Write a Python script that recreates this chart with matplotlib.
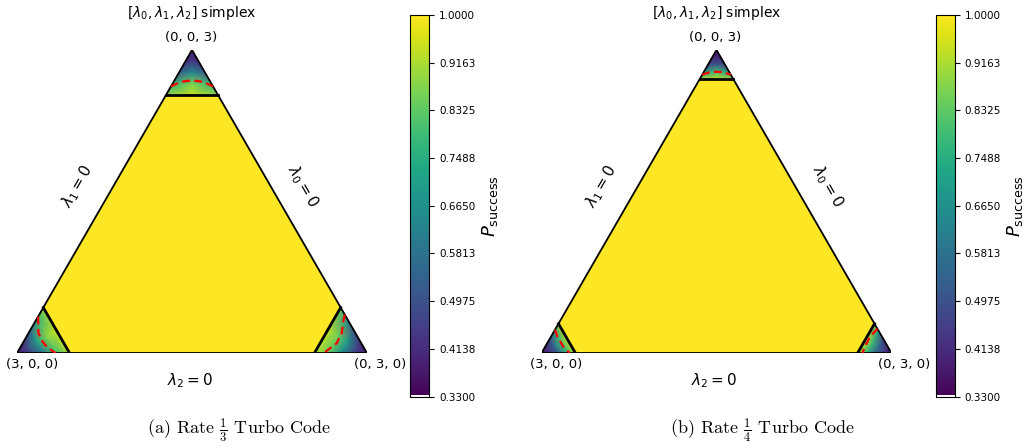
import numpy as np
import matplotlib
matplotlib.use("Agg")
import matplotlib.pyplot as plt
import matplotlib.tri as mtri
from matplotlib.colors import ListedColormap, Normalize

plt.rcParams["mathtext.fontset"] = "dejavusans"
plt.rcParams["axes.formatter.use_mathtext"] = True

# ---------------- data ----------------
P_MIN, P_MAX = 0.33, 1.0
cbar_ticks = [0.3300, 0.4138, 0.4975, 0.5813, 0.6650, 0.7488, 0.8325, 0.9163, 1.0000]

# corner thresholds (lambda_k value of the black cut line)
thr_r3 = 2.55
thr_r4 = 2.71
interior_p = 1.0

# sampling inside each corner: depth fraction from vertex to cut, cross fraction edge-to-edge
depth_frac = [0.25, 0.5, 0.75, 1.0]
cross_frac = [0.0, 0.5, 1.0]

# vertex values: [(3,0,0), (0,3,0), (0,0,3)]
r3_vertex = [0.36, 0.36, 0.37]
r4_vertex = [0.35, 0.35, 0.36]

# Rate 1/3 corner values (rows = depth, cols = cross)
r3_bl = [[0.42, 0.48, 0.44], [0.55, 0.72, 0.60], [0.74, 0.88, 0.80], [0.88, 0.95, 0.92]]
r3_br = [[0.41, 0.47, 0.46], [0.50, 0.70, 0.66], [0.66, 0.86, 0.84], [0.84, 0.94, 0.93]]
r3_top = [[0.41, 0.45, 0.41], [0.53, 0.66, 0.53], [0.76, 0.87, 0.76], [0.89, 0.95, 0.89]]
# Rate 1/4 corner values
r4_bl = [[0.40, 0.44, 0.41], [0.48, 0.58, 0.53], [0.68, 0.80, 0.76], [0.90, 0.95, 0.93]]
r4_br = [[0.40, 0.44, 0.44], [0.47, 0.58, 0.56], [0.66, 0.80, 0.78], [0.88, 0.95, 0.94]]
r4_top = [[0.39, 0.41, 0.39], [0.47, 0.53, 0.47], [0.68, 0.80, 0.68], [0.90, 0.95, 0.90]]

# red dashed boundaries (barycentric)
r3_red_top_l0 = [0.36, 0.25, 0.15, 0.065, 0.0]
r3_red_top_l1 = [0.0, 0.065, 0.15, 0.25, 0.36]
r3_red_bl_l1 = [0.0, 0.084, 0.151, 0.227, 0.33]
r3_red_bl_l2 = [0.36, 0.198, 0.122, 0.059, 0.0]
r3_red_br_l0 = [0.0, 0.048, 0.119, 0.212, 0.37]
r3_red_br_l2 = [0.38, 0.31, 0.195, 0.096, 0.0]

r4_red_top_l0 = [0.245, 0.17, 0.108, 0.05, 0.0]
r4_red_top_l1 = [0.0, 0.05, 0.108, 0.17, 0.245]
r4_red_bl_l1 = [0.0, 0.055, 0.156, 0.24]
r4_red_bl_l2 = [0.23, 0.161, 0.062, 0.0]
r4_red_br_l0 = [0.0, 0.104, 0.196, 0.25]
r4_red_br_l2 = [0.24, 0.161, 0.062, 0.0]

captions = [r"(a) Rate $\frac{1}{3}$ Turbo Code", r"(b) Rate $\frac{1}{4}$ Turbo Code"]

# ---------------- helpers ----------------
SQ = np.sqrt(3) / 2


def to_xy(l0, l1, l2):
    l0, l1, l2 = np.asarray(l0, float), np.asarray(l1, float), np.asarray(l2, float)
    return (l1 + 0.5 * l2) / 3.0, SQ * l2 / 3.0


# corner k, lambda index a gets (1-u), index b gets u
CORNERS = [(0, 2, 1), (1, 2, 0), (2, 0, 1)]

base = plt.get_cmap("viridis")(np.linspace(0, 1, 256))
base[0] = [1, 1, 1, 1]
cmap = ListedColormap(base)
norm = Normalize(P_MIN, P_MAX)

W, H = 1028, 448
fig = plt.figure(figsize=(W / 100, H / 100), dpi=100)


def px_axes(x0, y0, x1, y1):
    return fig.add_axes([x0 / W, 1 - y1 / H, (x1 - x0) / W, (y1 - y0) / H])


def draw_panel(left_px, cbar_x0, thr, vertex_vals, tables, reds, caption, cap_x):
    ax = px_axes(left_px, 50, left_px + 350, 353)
    ax.set_xlim(0, 1)
    ax.set_ylim(0, SQ)
    ax.set_aspect("equal")
    ax.axis("off")
    s = 3 - thr

    # interior hexagon (value 1)
    hl0 = [thr, 3 - thr, 0, 0, 3 - thr, thr]
    hl1 = [3 - thr, thr, thr, 3 - thr, 0, 0]
    hl2 = [0, 0, 3 - thr, thr, thr, 3 - thr]
    hx, hy = to_xy(hl0, hl1, hl2)
    ax.tripcolor(mtri.Triangulation(hx, hy), np.full(len(hx), interior_p),
                 shading="gouraud", cmap=cmap, norm=norm)

    # corners
    for (k, a, b), vv, tab in zip(CORNERS, vertex_vals, tables):
        lams, vals = [], []
        lam = np.zeros(3); lam[k] = 3
        lams.append(lam); vals.append(vv)
        for t, row in zip(depth_frac, tab):
            for u, v in zip(cross_frac, row):
                lam = np.zeros(3)
                lam[k] = 3 - t * s
                lam[a] = t * s * (1 - u)
                lam[b] = t * s * u
                lams.append(lam); vals.append(v)
        lams = np.array(lams)
        x, y = to_xy(lams[:, 0], lams[:, 1], lams[:, 2])
        ax.tripcolor(mtri.Triangulation(x, y), np.array(vals), shading="gouraud",
                     cmap=cmap, norm=norm)

    # triangle outline
    tx, ty = to_xy([3, 0, 0, 3], [0, 3, 0, 0], [0, 0, 3, 0])
    ax.plot(tx, ty, color="black", lw=1.3, solid_joinstyle="miter")

    # cut lines
    for (k, a, b) in CORNERS:
        la = np.zeros((2, 3))
        la[:, k] = thr
        la[0, a] = s
        la[1, b] = s
        cx, cy = to_xy(la[:, 0], la[:, 1], la[:, 2])
        ax.plot(cx, cy, color="black", lw=2.0)

    # red dashed curves
    for (l0, l1, l2) in reds:
        rx, ry = to_xy(l0, l1, l2)
        ax.plot(rx, ry, color="red", lw=1.6, ls=(0, (3.5, 2)))

    def d(px, py):
        return (px - left_px) / 350.0, (353 - py) / 350.0

    ax.text(*d(left_px + 175, 13), r"$[\lambda_0, \lambda_1, \lambda_2]$ simplex",
            ha="center", va="center", fontsize=10)
    ax.text(*d(left_px + 174, 37.5), "(0, 0, 3)", ha="center", va="center", fontsize=9.5)
    ax.text(*d(left_px + 15, 365), "(3, 0, 0)", ha="center", va="center", fontsize=9.5)
    ax.text(*d(left_px + 363, 365), "(0, 3, 0)", ha="center", va="center", fontsize=9.5)
    ax.text(*d(left_px + 173, 381), r"$\lambda_2 = 0$", ha="center", va="center", fontsize=11)
    ax.text(*d(left_px + 60, 186), r"$\lambda_1 = 0$", ha="center", va="center",
            fontsize=11, rotation=60)
    ax.text(*d(left_px + 286, 186), r"$\lambda_0 = 0$", ha="center", va="center",
            fontsize=11, rotation=-60)

    # colorbar
    cax = px_axes(cbar_x0, 15, cbar_x0 + 19.3, 396.5)
    sm = plt.cm.ScalarMappable(norm=norm, cmap=cmap)
    cb = fig.colorbar(sm, cax=cax, ticks=cbar_ticks)
    cb.ax.set_yticklabels([f"{t:.4f}" for t in cbar_ticks])
    cb.ax.tick_params(labelsize=7.5)
    cb.set_label(r"$P_{\rm success}$", fontsize=13, labelpad=3)

    fig.text(cap_x / W, 1 - 430 / H, caption, ha="center", va="center",
             fontsize=13, family="cmr10", math_fontfamily="cm")


r3_red = [
    (r3_red_top_l0, r3_red_top_l1, 3 - np.add(r3_red_top_l0, r3_red_top_l1)),
    (3 - np.add(r3_red_bl_l1, r3_red_bl_l2), r3_red_bl_l1, r3_red_bl_l2),
    (r3_red_br_l0, 3 - np.add(r3_red_br_l0, r3_red_br_l2), r3_red_br_l2),
]
r4_red = [
    (r4_red_top_l0, r4_red_top_l1, 3 - np.add(r4_red_top_l0, r4_red_top_l1)),
    (3 - np.add(r4_red_bl_l1, r4_red_bl_l2), r4_red_bl_l1, r4_red_bl_l2),
    (r4_red_br_l0, 3 - np.add(r4_red_br_l0, r4_red_br_l2), r4_red_br_l2),
]

draw_panel(17, 410, thr_r3, r3_vertex, [r3_bl, r3_br, r3_top], r3_red, captions[0], 239)
draw_panel(541.5, 935.7, thr_r4, r4_vertex, [r4_bl, r4_br, r4_top], r4_red, captions[1], 762)

fig.savefig("out.png", dpi=100)
